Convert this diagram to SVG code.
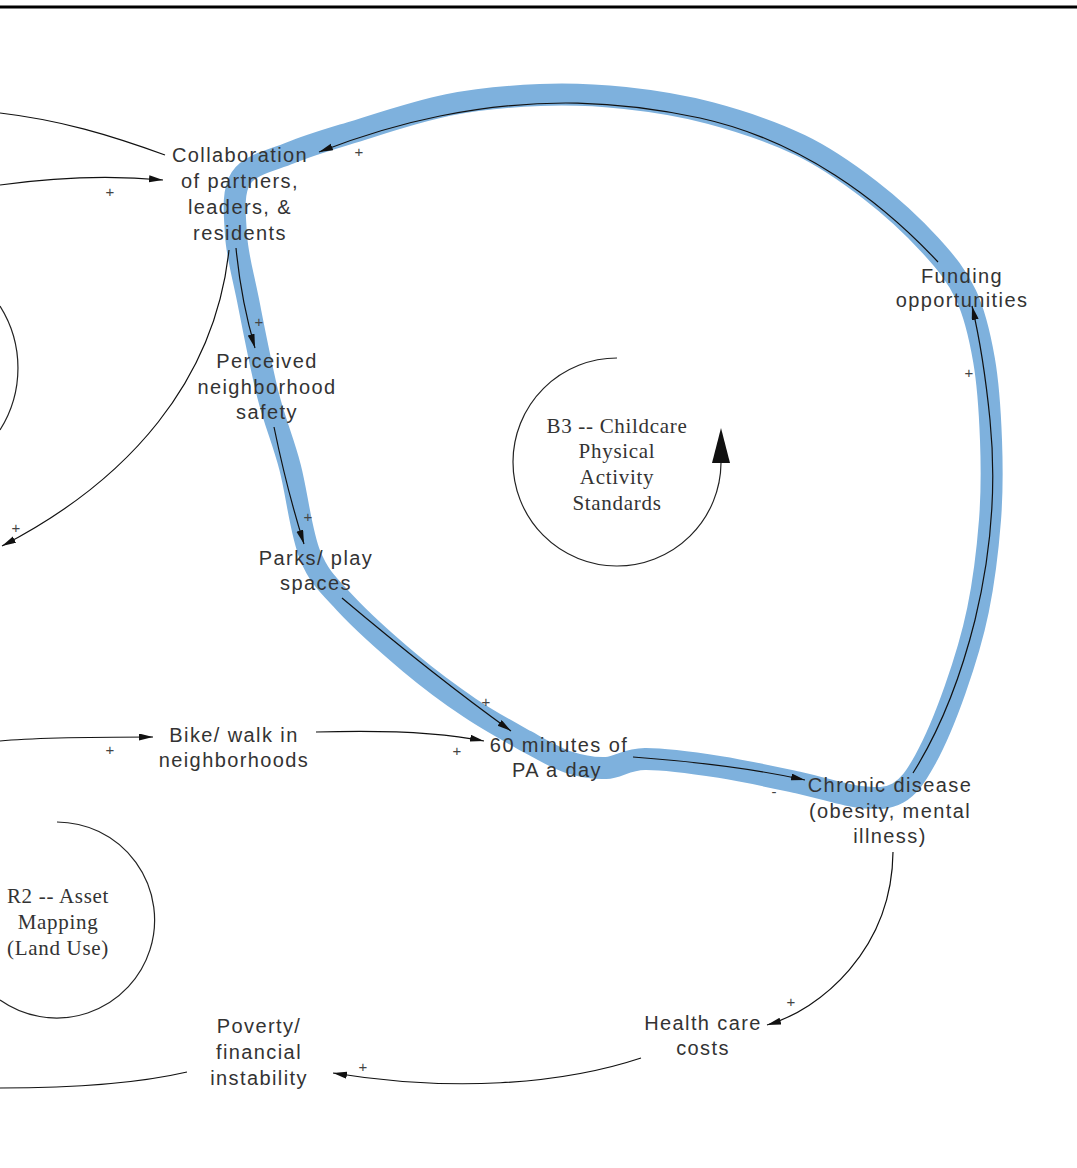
<svg xmlns="http://www.w3.org/2000/svg" width="1077" height="1168" viewBox="0 0 1077 1168">
<style>
.t{font-family:"Liberation Sans",Arial,sans-serif;font-size:20px;letter-spacing:1.4px;fill:#333;text-anchor:middle}
.s{font-family:"Liberation Serif","Times New Roman",serif;font-size:21px;letter-spacing:0.7px;fill:#333;text-anchor:middle}
.p{font-family:"Liberation Sans",Arial,sans-serif;font-size:15px;fill:#444;text-anchor:middle}
.c{fill:none;stroke:#111;stroke-width:1.2}
.ca{fill:none;stroke:#111;stroke-width:1.2;marker-end:url(#ah)}
.loop{fill:none;stroke:#222;stroke-width:1.2}
</style>
<defs>
<marker id="ah" markerUnits="userSpaceOnUse" markerWidth="15" markerHeight="8" refX="14" refY="3.5" orient="auto">
<path d="M0,0 L14,3.5 L0,7 z" fill="#111"/>
</marker>
</defs>
<rect width="1077" height="1168" fill="#fff"/>
<line x1="0" y1="7" x2="1077" y2="7" stroke="#000" stroke-width="3"/>

<g id="highlight">
<path d="M241,178 C250,164.3 271.8,160.5 290,153 S323.7,141 350,133 S416.3,111.3 448,105 S510.5,96.2 540,95 S596.7,95 625,98 S680.8,105.2 710,113 S773.3,132.2 800,145 S848.3,173.3 870,190 S914,227.5 930,245 S957,275.8 966,295 S979.8,335.8 984,360 S990,413.3 991,440 S992.2,491.7 990,520 S983.8,581.7 978,610 S963.8,665 955,690 S934.5,742.8 925,760 S908.8,786.8 898,793 S876.3,798.7 860,797 S823.3,788 800,783 S745.8,771 720,767 S664,758.8 645,759 S618.8,767.5 606,768 S581.3,766.5 568,762 S542.3,750 526,741 S489.3,721 470,708 S430.8,680.5 410,663 S361.7,621 345,603 S319.2,577.7 310,555 S297,493.7 290,467 S275,422.8 268,395 S253.3,326.7 248,300 S237.2,255.3 236,235 S232,191.8 241,178 Z" fill="none" stroke="#7EB1DD" stroke-width="22" stroke-linejoin="round"/>
</g>

<g id="connectors">
<path class="ca" d="M938,262 C880,200 800,140 700,118 C620,101 540,96 440,116 C390,126 350,140 319,152"/>
<path class="ca" d="M236,248 Q241,300 255,348"/>
<path class="ca" d="M229,250 C215,380 130,480 2,546"/>
<path class="ca" d="M274,427 Q287,490 304,544"/>
<path class="ca" d="M342,598 C380,630 440,680 511,731"/>
<path class="ca" d="M316,732 C380,730 440,732 484,741"/>
<path class="ca" d="M0,741 C40,737 100,737 153,737"/>
<path class="ca" d="M633,757 C700,762 760,770 805,780"/>
<path class="ca" d="M913,773 C940,730 960,680 975,620 C992,550 996,480 990,420 C986,380 980,340 972,306"/>
<path class="ca" d="M893,852 C892,950 820,1010 767,1025"/>
<path class="ca" d="M641,1058 C560,1085 450,1092 333,1073"/>
<path class="c" d="M187,1072 C140,1083 80,1088 0,1088"/>
<path class="c" d="M165,155 C110,135 60,120 0,113"/>
<path class="ca" d="M0,185 C50,178 110,175 163,180"/>
<text class="p" x="359" y="157">+</text>
<text class="p" x="110" y="197">+</text>
<text class="p" x="259" y="327">+</text>
<text class="p" x="16" y="533">+</text>
<text class="p" x="308" y="522">+</text>
<text class="p" x="486" y="707">+</text>
<text class="p" x="110" y="755">+</text>
<text class="p" x="457" y="756">+</text>
<text class="p" x="774" y="797">-</text>
<text class="p" x="969" y="378">+</text>
<text class="p" x="791" y="1007">+</text>
<text class="p" x="363" y="1072">+</text>
</g>

<g id="loops">
<path class="loop" d="M0,306 A116,116 0 0 1 0,430"/>
<path class="loop" d="M57,822 A98,98 0 1 1 0,1000"/>
<path class="loop" d="M617,358 A104,104 0 1 0 721,463"/>
<polygon points="721,428 712,463 730,463" fill="#111"/>
</g>

<g id="collaboration">
<text class="t" x="240" y="162">Collaboration</text>
<text class="t" x="240" y="188">of partners,</text>
<text class="t" x="240" y="214">leaders, &amp;</text>
<text class="t" x="240" y="240">residents</text>
</g>
<g id="perceived-safety">
<text class="t" x="267" y="368">Perceived</text>
<text class="t" x="267" y="394">neighborhood</text>
<text class="t" x="267" y="419">safety</text>
</g>
<g id="parks">
<text class="t" x="316" y="565">Parks/ play</text>
<text class="t" x="316" y="590">spaces</text>
</g>
<g id="funding">
<text class="t" x="962" y="283">Funding</text>
<text class="t" x="962" y="307">opportunities</text>
</g>
<g id="pa">
<text class="t" x="559" y="752">60 minutes of</text>
<text class="t" x="557" y="777">PA a day</text>
</g>
<g id="chronic">
<text class="t" x="890" y="792">Chronic disease</text>
<text class="t" x="890" y="818">(obesity, mental</text>
<text class="t" x="890" y="843">illness)</text>
</g>
<g id="bike">
<text class="t" x="234" y="742">Bike/ walk in</text>
<text class="t" x="234" y="767">neighborhoods</text>
</g>
<g id="healthcare">
<text class="t" x="703" y="1030">Health care</text>
<text class="t" x="703" y="1055">costs</text>
</g>
<g id="poverty">
<text class="t" x="259" y="1033">Poverty/</text>
<text class="t" x="259" y="1059">financial</text>
<text class="t" x="259" y="1085">instability</text>
</g>
<g id="b3">
<text class="s" x="617" y="433">B3 -- Childcare</text>
<text class="s" x="617" y="458">Physical</text>
<text class="s" x="617" y="484">Activity</text>
<text class="s" x="617" y="510">Standards</text>
</g>
<g id="r2">
<text class="s" x="58" y="903">R2 -- Asset</text>
<text class="s" x="58" y="929">Mapping</text>
<text class="s" x="58" y="955">(Land Use)</text>
</g>
</svg>
